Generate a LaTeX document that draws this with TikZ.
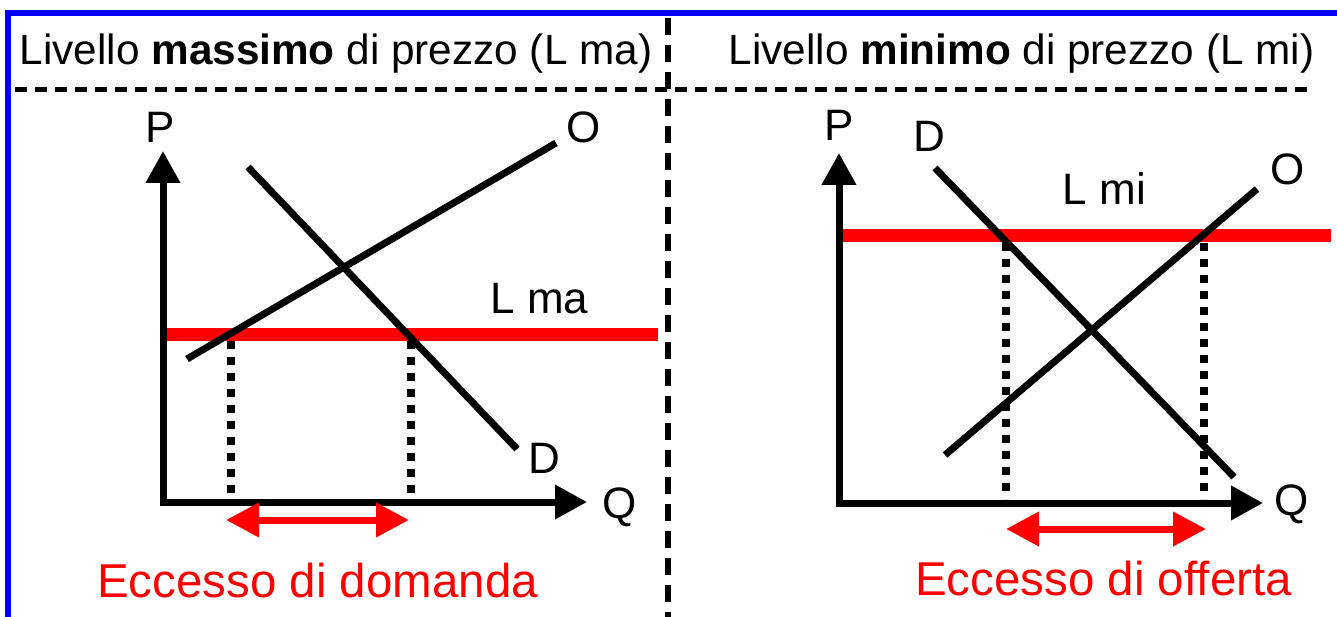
\documentclass[tikz,border=0pt]{standalone}
\usepackage{fontspec}
\setmainfont{Liberation Sans}
\usetikzlibrary{arrows.meta}
\definecolor{pureblue}{RGB}{0,0,255}
\definecolor{purered}{RGB}{255,0,0}
\tikzset{
  lbl/.style={inner sep=0pt, anchor=base, font=\fontsize{44}{50}\selectfont},
  hdr/.style={inner sep=0pt, anchor=base, font=\fontsize{42.3}{48}\selectfont},
  redlbl/.style={inner sep=0pt, anchor=base, text=purered, font=\fontsize{47.5}{54}\selectfont},
  axis/.style={line width=7pt, {Triangle[length=32pt,width=33pt]}-{Triangle[length=32pt,width=33pt]}},
  curve/.style={line width=7pt},
  limit/.style={line width=13pt, purered},
  guide/.style={line width=7.5pt, dash pattern=on 8pt off 8pt},
  excess/.style={line width=7pt, purered, {Triangle[length=33pt,width=33pt]}-{Triangle[length=33pt,width=33pt]}},
  divider/.style={line width=6.5pt, dash pattern=on 17pt off 10pt},
  hline/.style={line width=5pt, dash pattern=on 12pt off 8pt},
  frame/.style={line width=6pt, pureblue}
}
\begin{document}
\begin{tikzpicture}[x=1pt,y=-1pt]
\useasboundingbox (0,0) rectangle (1337,617);
\fill[white] (0,0) rectangle (1337,617);

% frame
\coordinate (fb) at (8,620);
\coordinate (ftl) at (8,13);
\coordinate (ftr) at (1340,13);
\draw[frame, line join=miter] (fb) -- (ftl) -- (ftr);

% dividers
\coordinate (hl) at (15,90);
\coordinate (hr) at (1312,90);
\draw[hline] (hl) -- (hr);
\coordinate (vt) at (668,18);
\coordinate (vb) at (668,617);
\draw[divider] (vt) -- (vb);

% headers
\node[hdr] (h1) at (336,65) {Livello \textbf{massimo} di prezzo (L ma)};
\node[hdr] (h2) at (1021.5,65) {Livello \textbf{minimo} di prezzo (L mi)};

% ---------- left panel ----------
\coordinate (lorig) at (163,502);
\coordinate (lptip) at (163,151);
\coordinate (lqtip) at (587,502);
\coordinate (lO1) at (187,359);
\coordinate (lO2) at (556,143);
\coordinate (lD1) at (248,167);
\coordinate (lD2) at (517,449);
\coordinate (lL1) at (167,334);
\coordinate (lL2) at (658,334);
\coordinate (lg1t) at (231,341);
\coordinate (lg1b) at (231,498);
\coordinate (lg2t) at (411,341);
\coordinate (lg2b) at (411,498);
\coordinate (la1) at (226,520);
\coordinate (la2) at (409,520);

\draw[limit] (lL1) -- (lL2);
\draw[guide] (lg1t) -- (lg1b);
\draw[guide] (lg2t) -- (lg2b);
\draw[curve] (lO1) -- (lO2);
\draw[curve] (lD1) -- (lD2);
\draw[axis] (lptip) -- (lorig) -- (lqtip);
\draw[excess] (la1) -- (la2);

\node[lbl] (lP) at (160,143) {P};
\node[lbl] (lO) at (584,143) {O};
\node[lbl] (lLma) at (539.5,313) {L ma};
\node[lbl] (lD) at (544,473) {D};
\node[lbl] (lQ) at (620,518) {Q};
\node[redlbl] (lex) at (317.5,597) {Eccesso di domanda};

% ---------- right panel ----------
\coordinate (rorig) at (839,503);
\coordinate (rptip) at (839,153);
\coordinate (rqtip) at (1263,503);
\coordinate (rO1) at (945,455);
\coordinate (rO2) at (1257,189);
\coordinate (rD1) at (935,168);
\coordinate (rD2) at (1234,477);
\coordinate (rL1) at (842,236);
\coordinate (rL2) at (1331,236);
\coordinate (rg1t) at (1006,243);
\coordinate (rg1b) at (1006,499);
\coordinate (rg2t) at (1204,243);
\coordinate (rg2b) at (1204,499);
\coordinate (ra1) at (1006,529);
\coordinate (ra2) at (1206,529);

\draw[limit] (rL1) -- (rL2);
\draw[guide] (rg1t) -- (rg1b);
\draw[guide] (rg2t) -- (rg2b);
\draw[curve] (rO1) -- (rO2);
\draw[curve] (rD1) -- (rD2);
\draw[axis] (rptip) -- (rorig) -- (rqtip);
\draw[excess] (ra1) -- (ra2);

\node[lbl] (rP) at (839.5,141) {P};
\node[lbl] (rD) at (929,152) {D};
\node[lbl] (rO) at (1287.5,185) {O};
\node[lbl] (rLmi) at (1104.5,205) {L mi};
\node[lbl] (rQ) at (1292,515) {Q};
\node[redlbl] (rex) at (1103.5,595) {Eccesso di offerta};
\end{tikzpicture}
\end{document}
